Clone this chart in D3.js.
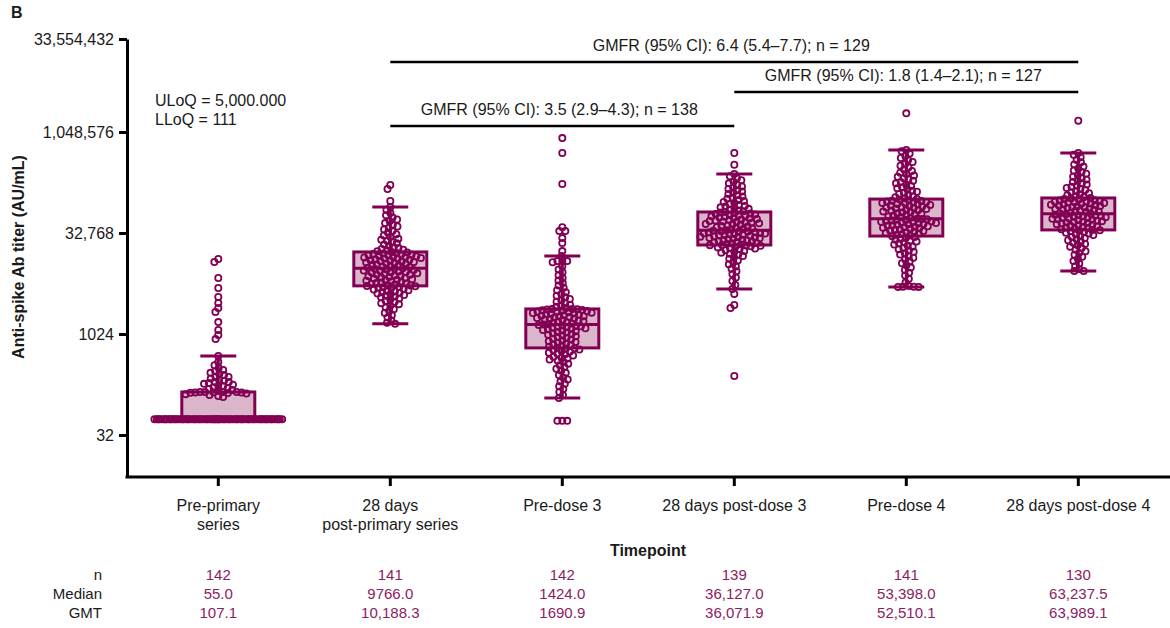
<!DOCTYPE html>
<html><head><meta charset="utf-8">
<script src="https://cdn.jsdelivr.net/npm/d3@7"></script>
<style>
html,body{margin:0;padding:0;background:#fff;}
text{font-family:"Liberation Sans",Arial,sans-serif;}
</style></head>
<body><svg id="chart" width="1170" height="628"></svg>
<script>
// ---------------- DATA ----------------
const categories = ["Pre-primary series","28 days post-primary series","Pre-dose 3","28 days post-dose 3","Pre-dose 4","28 days post-dose 4"];
const categoryLines = [["Pre-primary","series"],["28 days","post-primary series"],["Pre-dose 3"],["28 days post-dose 3"],["Pre-dose 4"],["28 days post-dose 4"]];
const yTickValues = [32, 1024, 32768, 1048576, 33554432];
// box statistics (AU/mL)
const q1s       = [55, 5340, 635, 21700, 29500, 36400];
const medians   = [55, 9766, 1424, 36127, 53398, 63237.5];
const q3s       = [140, 17100, 2420, 67400, 105000, 109000];
const whiskerLo = [55, 1450, 114, 4800, 5150, 8900];
const whiskerHi = [481, 80000, 14900, 248000, 566000, 510000];
// individual titers (AU/mL)
const prePrimary = [55,55,55,55,55,55,55,55,55,55,55,55,55,55,55,55,55,55,55,55,55,55,55,55,55,55,55,55,55,55,55,55,55,55,55,55,
 55,55,55,55,55,55,55,55,55,55,55,55,55,55,55,55,55,55,55,55,55,55,55,55,55,55,55,55,55,55,55,55,55,55,55,55,55,55,55,55,
 118,122,126,130,133,135,136,137,138,139,140,140,140,140,
 145,150,155,160,165,172,172,180,185,190,197,197,205,210,222,234,234,250,260,270,285,298,320,350,390,481,
 860,990,1175,1540,2180,2500,2960,3650,4970,7000,12100,13400];
const postPrimary = [1450,1500,1620,1800,1950,2100,2250,2400,2550,2700,2850,2950,3100,3200,3350,3450,3600,3700,3800,3900,4000,4100,4200,4300,4400,4500,4600,4700,4800,4900,5000,5100,5150,5250,5300,
 5400,5500,5600,5700,5800,5900,6000,6100,6200,6350,6500,6600,6700,6850,7000,7100,7250,7400,7500,7650,7800,7900,8050,8200,8350,8500,8600,8750,8900,9050,9200,9350,9500,9650,9766,
 9900,10100,10300,10500,10700,10900,11100,11300,11500,11700,11900,12100,12300,12500,12700,12900,13100,13300,13500,13700,13900,14100,14300,14500,14700,14900,15100,15300,15500,15700,15900,16200,16500,16800,17100,
 17500,18000,18500,19000,19500,20000,21000,22000,23000,24000,25000,26000,27000,28500,30000,31500,33000,35000,37000,39000,41000,43000,46000,49000,52000,56000,60000,65000,72000,80000,98000,148000,170000];
const preDose3 = [52,52,52,114,125,140,155,170,185,200,215,230,250,270,290,310,330,350,370,390,410,425,440,455,470,490,510,525,540,555,570,585,600,615,630,
 640,660,680,700,720,740,760,780,800,820,845,870,895,920,945,970,1000,1025,1050,1075,1100,1125,1150,1175,1200,1225,1250,1270,1290,1310,1330,1350,1375,1400,1424,
 1440,1470,1500,1530,1560,1590,1620,1650,1680,1710,1740,1770,1800,1830,1860,1890,1920,1950,1980,2010,2040,2070,2100,2130,2160,2190,2220,2250,2280,2310,2340,2370,2390,2405,2420,
 2500,2600,2700,2800,2950,3100,3250,3400,3600,3800,4000,4300,4600,5000,5400,5900,6400,7000,7700,8500,9400,10500,12000,12500,12500,12500,14900,17600,23200,27500,35000,35000,40000,176000,510000,850000];
const postDose3 = [242,2500,2780,4050,4800,5500,6300,7100,8000,8800,9600,10400,11200,12000,12800,13500,14200,14900,15500,16100,16700,17200,17700,18200,18700,19200,19600,20000,20400,20800,21100,21400,21600,21700,
 22100,22500,22900,23300,23700,24100,24500,24900,25300,25700,26100,26500,26900,27300,27700,28100,28500,28900,29300,29700,30100,30500,30900,31300,31700,32100,32500,32900,33300,33700,34100,34500,34900,35500,36127,
 36800,37600,38400,39200,40000,40800,41600,42400,43200,44000,44800,45600,46400,47200,48000,48800,49600,50400,51200,52000,53000,54000,55000,56000,57000,58000,59000,60000,61000,62000,63000,64000,65000,66000,67400,
 69000,71000,73000,75000,77000,79000,81000,83000,86000,89000,92000,95000,98000,102000,106000,110000,115000,120000,125000,130000,136000,142000,148000,155000,162000,170000,180000,190000,200000,215000,230000,248000,340000,510000];
const preDose4 = [5150,5150,5200,5200,5300,6000,6800,7600,8400,9200,10000,10800,11600,12400,13200,14000,14800,15600,16400,17200,18000,18800,19600,20400,21200,22000,22800,23600,24400,25200,26000,26800,27600,28500,29400,
 30100,30800,31500,32200,32900,33600,34300,35000,35700,36400,37100,37800,38500,39200,39900,40600,41300,42000,42700,43400,44100,44800,45500,46200,46900,47600,48300,49000,49700,50400,51100,51800,52500,53000,53398,
 54800,56200,57600,59000,60400,61800,63200,64600,66000,67400,68800,70200,71600,73000,74400,75800,77200,78600,80000,81500,83000,84500,86000,87500,89000,90500,92000,93500,95000,96500,98000,99500,101000,103000,105000,
 108000,112000,116000,120000,125000,130000,135000,140000,146000,152000,158000,165000,172000,180000,188000,196000,205000,215000,225000,236000,248000,260000,275000,290000,310000,330000,350000,375000,400000,430000,460000,500000,540000,566000,2100000];
const postDose4 = [8900,8900,9500,10500,11500,12500,13500,14500,15500,16500,17500,18500,19500,20500,21500,22500,23500,24500,25500,26500,27500,28500,29500,30500,31500,32300,33100,33900,34700,35400,36000,36400,
 37200,38000,38800,39600,40400,41200,42000,42800,43600,44400,45200,46000,46800,47600,48400,49200,50000,50800,51600,52400,53200,54000,54800,55600,56400,57200,58000,58800,59600,60400,61200,62200,63237,
 64500,65800,67100,68400,69700,71000,72300,73600,74900,76200,77500,78800,80100,81400,82700,84000,85300,86600,87900,89200,90500,91800,93100,94400,95700,97000,98300,99600,101000,103000,105000,107000,109000,
 112000,116000,120000,124000,128000,133000,138000,143000,148000,154000,160000,166000,173000,180000,188000,196000,205000,215000,226000,238000,250000,265000,280000,300000,320000,345000,370000,400000,440000,480000,510000,1600000];
const pointSets = [prePrimary, postPrimary, preDose3, postDose3, preDose4, postDose4];
// comparisons: [fromIndex, toIndex, label]
const compFrom = [1, 3, 1];
const compTo = [5, 5, 3];
const compLabels = ["GMFR (95% CI): 6.4 (5.4\u20137.7); n = 129","GMFR (95% CI): 1.8 (1.4\u20132.1); n = 127","GMFR (95% CI): 3.5 (2.9\u20134.3); n = 138"];
const limitLabels = ["ULoQ = 5,000.000","LLoQ = 111"];
const tableRowLabels = ["n","Median","GMT"];
const nValues = ["142","141","142","139","141","130"];
const medianLabels = ["55.0","9766.0","1424.0","36,127.0","53,398.0","63,237.5"];
const gmtLabels = ["107.1","10,188.3","1690.9","36,071.9","52,510.1","63,989.1"];

// ---------------- DRAW ----------------
const MARK = "#820053", FILL = "#dbb6cb", TABLE = "#8a2262", INK = "#1a1a1a";
const svg = d3.select("#chart");
const axisX = 127, axisBottom = 477, axisTop = 39;

const y = d3.scaleLog().base(2)
  .domain([Math.pow(2, 2.92), Math.pow(2, 20), Math.pow(2, 25)])
  .range([axisBottom, 132, axisTop]);
const x = d3.scaleBand().domain(categories).range([132.3, 1164.3]).padding(0);
const cx = c => x(c) + x.bandwidth() / 2;

// Y axis
const yAxis = d3.axisLeft(y).tickValues(yTickValues).tickSize(8).tickSizeOuter(0)
  .tickFormat(v => v >= 10000 ? d3.format(",")(v) : String(v));
const gy = svg.append("g").attr("transform", `translate(${axisX},0)`).call(yAxis);
gy.select(".domain").attr("stroke", "#000").attr("stroke-width", 3);
gy.selectAll(".tick line").attr("stroke", "#000").attr("stroke-width", 3);
gy.selectAll(".tick text").attr("font-size", 16).attr("fill", INK).attr("x", -13)
  .attr("font-family", "Liberation Sans, Arial, sans-serif");

// X axis
const xAxis = d3.axisBottom(x).tickSize(9).tickSizeOuter(0).tickFormat("");
const gx = svg.append("g").attr("transform", `translate(0,${axisBottom})`).call(xAxis);
gx.select(".domain").remove();
gx.selectAll(".tick line").attr("stroke", "#000").attr("stroke-width", 3);
svg.append("line").attr("x1", axisX - 1.5).attr("x2", 1170).attr("y1", axisBottom).attr("y2", axisBottom)
  .attr("stroke", "#000").attr("stroke-width", 3);

categories.forEach((c, i) => {
  const t = svg.append("text").attr("x", cx(c)).attr("text-anchor", "middle")
    .attr("font-size", 16).attr("fill", INK);
  categoryLines[i].forEach((ln, j) => {
    t.append("tspan").attr("x", cx(c)).attr("y", 511 + j * 19).text(ln);
  });
});

// axis titles
svg.append("text").attr("x", 648).attr("y", 556).attr("text-anchor", "middle")
  .attr("font-size", 16).attr("font-weight", "bold").attr("fill", INK).text("Timepoint");
svg.append("text").attr("transform", "translate(24,257) rotate(-90)").attr("text-anchor", "middle")
  .attr("font-size", 16).attr("font-weight", "bold").attr("fill", INK).text("Anti-spike Ab titer (AU/mL)");
svg.append("text").attr("x", 11).attr("y", 18).attr("font-size", 16).attr("font-weight", "bold")
  .attr("fill", INK).text("B");

// limits text
limitLabels.forEach((l, i) => {
  svg.append("text").attr("x", 155).attr("y", 106 + i * 19).attr("font-size", 16).attr("fill", INK).text(l);
});

// comparison brackets
const bracketY = [62, 92, 126];
compLabels.forEach((l, i) => {
  const x1 = cx(categories[compFrom[i]]), x2 = cx(categories[compTo[i]]);
  svg.append("line").attr("x1", x1).attr("x2", x2).attr("y1", bracketY[i]).attr("y2", bracketY[i])
    .attr("stroke", "#000").attr("stroke-width", 2.6);
  svg.append("text").attr("x", (x1 + x2) / 2 - 3).attr("y", bracketY[i] - 11).attr("text-anchor", "middle")
    .attr("font-size", 16).attr("fill", INK).text(l);
});

// boxes
const boxW = 73, capW = 36;
categories.forEach((c, i) => {
  const g = svg.append("g");
  const xc = cx(c);
  g.append("rect").attr("x", xc - boxW / 2).attr("width", boxW)
    .attr("y", y(q3s[i])).attr("height", Math.max(0, y(q1s[i]) - y(q3s[i])))
    .attr("fill", FILL).attr("stroke", MARK).attr("stroke-width", 3);
  g.append("line").attr("x1", xc).attr("x2", xc).attr("y1", y(q3s[i])).attr("y2", y(whiskerHi[i]))
    .attr("stroke", MARK).attr("stroke-width", 3);
  g.append("line").attr("x1", xc).attr("x2", xc).attr("y1", y(q1s[i])).attr("y2", y(whiskerLo[i]))
    .attr("stroke", MARK).attr("stroke-width", 3);
  [whiskerHi[i], whiskerLo[i]].forEach(w => {
    if (w === q1s[i]) return;
    g.append("line").attr("x1", xc - capW / 2).attr("x2", xc + capW / 2).attr("y1", y(w)).attr("y2", y(w))
      .attr("stroke", MARK).attr("stroke-width", 3);
  });
  g.append("line").attr("x1", xc - boxW / 2).attr("x2", xc + boxW / 2).attr("y1", y(medians[i])).attr("y2", y(medians[i]))
    .attr("stroke", MARK).attr("stroke-width", 3);
});

// beeswarm points
const D = 4.9, MAXH = 64;
function swarm(vals) {
  const pts = vals.map(v => ({ v, y: y(v), x: 0 })).sort((a, b) => a.y - b.y);
  const placed = [];
  pts.forEach(p => {
    const near = placed.filter(q => Math.abs(q.y - p.y) < D);
    let cands = [0];
    near.forEach(q => {
      const dx = Math.sqrt(D * D - (q.y - p.y) ** 2);
      cands.push(q.x - dx - 0.01, q.x + dx + 0.01);
    });
    cands.sort((a, b) => Math.abs(a) - Math.abs(b) || a - b);
    let chosen = null;
    for (const cxx of cands) {
      if (Math.abs(cxx) > MAXH) continue;
      if (near.every(q => (q.x - cxx) ** 2 + (q.y - p.y) ** 2 >= D * D - 0.05)) { chosen = cxx; break; }
    }
    if (chosen === null) {
      let best = -1;
      for (let gx2 = -MAXH; gx2 <= MAXH; gx2 += 0.5) {
        let m = Infinity;
        near.forEach(q => { m = Math.min(m, Math.hypot(q.x - gx2, q.y - p.y)); });
        if (m > best + 1e-6 || (Math.abs(m - best) < 1e-6 && Math.abs(gx2) < Math.abs(chosen))) { best = m; chosen = gx2; }
      }
    }
    p.x = chosen;
    placed.push(p);
  });
  return pts;
}
categories.forEach((c, i) => {
  const pts = swarm(pointSets[i]);
  svg.append("g").selectAll("circle").data(pts).join("circle")
    .attr("cx", d => cx(c) + d.x).attr("cy", d => d.y).attr("r", 3.1)
    .attr("fill", "none").attr("stroke", MARK).attr("stroke-width", 1.8);
});

// table
tableRowLabels.forEach((l, r) => {
  svg.append("text").attr("x", 102).attr("y", 580 + r * 19).attr("text-anchor", "end")
    .attr("font-size", 15).attr("fill", INK).text(l);
});
[nValues, medianLabels, gmtLabels].forEach((row, r) => {
  categories.forEach((c, i) => {
    svg.append("text").attr("x", cx(c)).attr("y", 580 + r * 19).attr("text-anchor", "middle")
      .attr("font-size", 15).attr("fill", TABLE).text(row[i]);
  });
});
</script></body></html>
